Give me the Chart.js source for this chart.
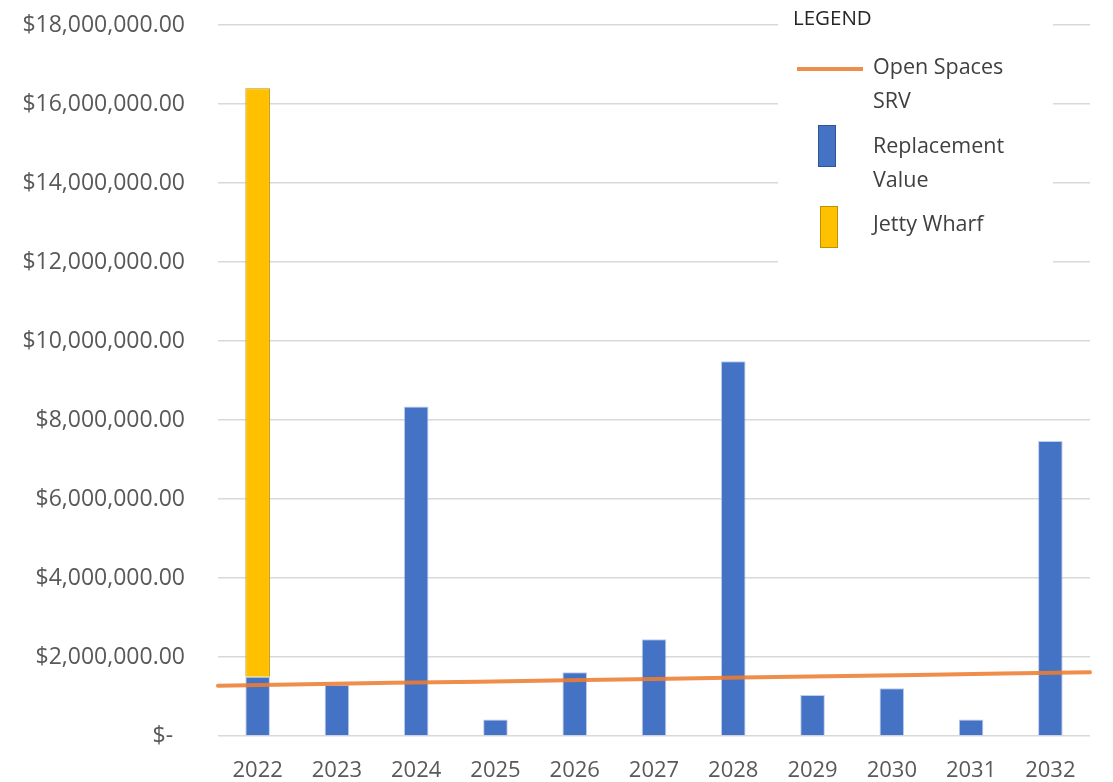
<!DOCTYPE html>
<html>
<head>
<meta charset="utf-8">
<title>Replacement Value by Year</title>
<script src="https://cdn.jsdelivr.net/npm/chart.js@4"></script>
<style>
  html, body { margin: 0; padding: 0; background: #fff; }
  #wrap { width: 1113px; height: 782px; }
</style>
</head>
<body>
<div id="wrap"><canvas id="assetChart" width="1113" height="782"></canvas></div>
<script>
// ---- data ----
const years = ["2022", "2023", "2024", "2025", "2026", "2027", "2028", "2029", "2030", "2031", "2032"];
const replacementValue = [1500000, 1290000, 8340000, 420000, 1615000, 2450000, 9490000, 1040000, 1210000, 420000, 7470000];
const jettyWharf = [14900000, null, null, null, null, null, null, null, null, null, null];
const openSpacesSRV = [1275000, 1310000, 1345000, 1375000, 1410000, 1445000, 1480000, 1515000, 1545000, 1580000, 1615000];
const yTickLabels = ["$-  ", "$2,000,000.00", "$4,000,000.00", "$6,000,000.00", "$8,000,000.00",
  "$10,000,000.00", "$12,000,000.00", "$14,000,000.00", "$16,000,000.00", "$18,000,000.00"];

const FONT = "'Open Sans', 'DejaVu Sans', sans-serif";
const GRID = "#d9d9d9";
const BLUE = "#4472c4";
const GOLD = "#ffc000";
const ORANGE = "rgba(237,125,49,0.88)";

// custom legend box in the top right corner
const legendBox = {
  id: "legendBox",
  afterDraw(chart) {
    const ctx = chart.ctx;
    const ds = chart.data.datasets;
    ctx.save();
    ctx.fillStyle = "#fff";
    ctx.fillRect(778, 0, 275, 275);

    ctx.fillStyle = "#262626";
    ctx.font = "20.5px " + FONT;
    ctx.textBaseline = "alphabetic";
    ctx.fillText("LEGEND", 793, 25);

    ctx.font = "21.5px " + FONT;
    const wrap = (txt, maxW) => {
      const words = txt.split(" ");
      const lines = [];
      let cur = "";
      words.forEach(w => {
        const t = cur ? cur + " " + w : w;
        if (cur && ctx.measureText(t).width > maxW) { lines.push(cur); cur = w; }
        else cur = t;
      });
      lines.push(cur);
      return lines;
    };
    const drawText = (txt, baseline) => {
      ctx.fillStyle = "#404040";
      wrap(txt, 150).forEach((l, i) => ctx.fillText(l, 873, baseline + i * 34));
    };

    // line item
    ctx.strokeStyle = ORANGE;
    ctx.lineWidth = 4;
    ctx.beginPath();
    ctx.moveTo(797, 69);
    ctx.lineTo(863, 69);
    ctx.stroke();
    drawText(ds[0].label, 74);

    // bar items
    ctx.fillStyle = BLUE;
    ctx.fillRect(818, 125, 18, 42);
    ctx.strokeStyle = "#2f5597";
    ctx.lineWidth = 1;
    ctx.strokeRect(818.5, 125.5, 17, 41);
    drawText(ds[1].label, 153);

    ctx.fillStyle = GOLD;
    ctx.fillRect(820, 206, 18, 42);
    ctx.strokeStyle = "#bf9000";
    ctx.strokeRect(820.5, 206.5, 17, 41);
    drawText(ds[2].label, 231);

    ctx.restore();
  }
};

new Chart(document.getElementById("assetChart"), {
  type: "bar",
  data: {
    labels: years,
    datasets: [
      {
        type: "line",
        label: "Open Spaces SRV",
        data: openSpacesSRV,
        xAxisID: "x2",
        stack: "srv",
        borderColor: ORANGE,
        borderWidth: 4,
        borderCapStyle: "round",
        pointRadius: 0,
        tension: 0,
        order: 0
      },
      {
        label: "Replacement Value",
        data: replacementValue,
        backgroundColor: BLUE,
        borderColor: "rgba(143,170,220,0.6)",
        borderWidth: 1,
        stack: "assets",
        order: 1
      },
      {
        label: "Jetty Wharf",
        data: jettyWharf,
        backgroundColor: GOLD,
        borderColor: "#bf9000",
        borderWidth: 1,
        stack: "assets",
        order: 2
      }
    ]
  },
  options: {
    responsive: false,
    animation: false,
    layout: { padding: { top: 25, right: 23, left: 0, bottom: 0 } },
    datasets: { bar: { grouped: false, categoryPercentage: 1, barPercentage: 0.31 } },
    plugins: { legend: { display: false }, tooltip: { enabled: false } },
    scales: {
      x: {
        stacked: true,
        grid: { display: false, drawTicks: false },
        border: { display: false },
        ticks: { color: "#595959", font: { family: FONT, size: 22 }, padding: 22, maxRotation: 0 },
        afterFit(scale) { scale.height = 46; }
      },
      x2: {
        type: "category",
        labels: years,
        display: false,
        offset: false
      },
      y: {
        stacked: true,
        min: 0,
        max: 18000000,
        grid: { color: GRID, lineWidth: 1.5, drawTicks: false },
        border: { display: false },
        ticks: {
          stepSize: 2000000,
          color: "#595959",
          font: { family: FONT, size: 23 },
          padding: 33,
          callback: (v, i) => yTickLabels[i]
        },
        afterFit(scale) {
          scale.width = 218;
          scale.paddingTop = 0;
          scale.paddingBottom = 0;
        }
      }
    }
  },
  plugins: [legendBox]
});
</script>
</body>
</html>
